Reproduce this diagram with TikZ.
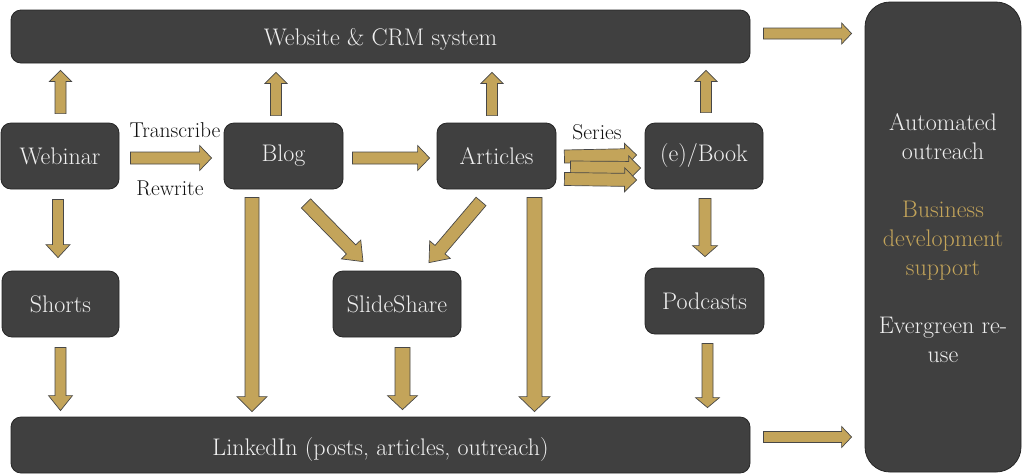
\documentclass[tikz,border=0pt]{standalone}
\usepackage{fontspec}
\usetikzlibrary{calc}
\definecolor{boxgray}{HTML}{404040}
\definecolor{boxline}{HTML}{262626}
\definecolor{gold}{HTML}{C3A45A}
\definecolor{txt}{HTML}{F0F0F0}
\definecolor{lbl}{HTML}{111111}
\tikzset{
  box/.style={draw=boxline, line width=0.8pt, fill=boxgray, rounded corners=10pt,
    text=txt, font=\fontsize{24}{28}\selectfont, inner sep=0pt},
  lbltext/.style={text=lbl, font=\fontsize{21.5}{24}\selectfont, inner sep=0pt},
  barrowstyle/.style={fill=gold, draw=boxline!85, line width=0.7pt, line join=miter},
}
\newcommand\blockarr[5]{%
  \coordinate (neck) at ($(#2)!#5pt!(#1)$);
  \filldraw[barrowstyle] ($(#1)!#3pt!90:(#2)$) -- ($(neck)!#3pt!90:(#2)$) -- ($(neck)!#4pt!90:(#2)$) -- (#2) -- ($(neck)!#4pt!-90:(#2)$) -- ($(neck)!#3pt!-90:(#2)$) -- ($(#1)!#3pt!-90:(#2)$) -- cycle;
}
\begin{document}
\begin{tikzpicture}[x=1pt,y=-1pt]
\useasboundingbox (0,0) rectangle (1024,475);
% boxes
\node[box, minimum width=739pt, minimum height=53pt] (web) at (380.5,36.5) {\raisebox{-3pt}[\height][\depth]{Website \& CRM system}};
\node[box, minimum width=739pt, minimum height=56pt] (linkedin) at (380.5,445) {\raisebox{-4pt}[\height][\depth]{LinkedIn (posts, articles, outreach)}};
\node[box, rounded corners=25pt, minimum width=156pt, minimum height=470pt] (right) at (943,237) {};
\node[box, minimum width=118pt, minimum height=66pt] (webinar) at (60,156) {Webinar};
\node[box, minimum width=119pt, minimum height=66pt] (blog) at (283.5,156) {Blog};
\node[box, minimum width=119pt, minimum height=66pt] (articles) at (496.5,156) {Articles};
\node[box, minimum width=118pt, minimum height=66pt] (book) at (704,156) {(e)/Book};
\node[box, minimum width=117pt, minimum height=66pt] (shorts) at (60.5,304) {Shorts};
\node[box, minimum width=128pt, minimum height=66pt] (slideshare) at (397,304) {SlideShare};
\node[box, minimum width=119pt, minimum height=66pt] (podcasts) at (704.5,301) {Podcasts};
% right text
\node[text=txt, font=\fontsize{24}{29}\selectfont, align=center, inner sep=0pt] (outcomes) at (943,238.5)
  {Automated\\outreach\\[29pt]\textcolor{gold}{Business}\\\textcolor{gold}{development}\\\textcolor{gold}{support}\\[29pt]Evergreen re-\\use};
% labels
\node[lbltext] (transcribe) at (175,130) {Transcribe};
\node[lbltext] (rewrite) at (170,188) {Rewrite};
\node[lbltext] (series) at (597,132) {Series};
% arrow end points
\coordinate (a1s) at ($(webinar.north)+(0.5,-9)$);
\coordinate (a1e) at ($(webinar.north |- web.south)+(0.5,7)$);
\coordinate (a2s) at ($(blog.north)+(-7.5,-7)$);
\coordinate (a2e) at ($(blog.north |- web.south)+(-7.5,9)$);
\coordinate (a3s) at ($(articles.north)+(-4.5,-7)$);
\coordinate (a3e) at ($(articles.north |- web.south)+(-4.5,9)$);
\coordinate (a4s) at ($(book.north)+(2,-10)$);
\coordinate (a4e) at ($(book.north |- web.south)+(2,7)$);
\coordinate (a5s) at ($(webinar.east)+(11,2)$);
\coordinate (a5e) at ($(blog.west)+(-12,2)$);
\coordinate (a6s) at ($(blog.east)+(9,2)$);
\coordinate (a6e) at ($(articles.west)+(-7,2)$);
\coordinate (s1s) at ($(articles.east)+(8,0.5)$);
\coordinate (s1e) at ($(book.west)+(-8,-1)$);
\coordinate (s2s) at ($(articles.east)+(14,11.5)$);
\coordinate (s2e) at ($(book.west)+(-4,12)$);
\coordinate (s3s) at ($(articles.east)+(8,23)$);
\coordinate (s3e) at ($(book.west)+(-8,24)$);
\coordinate (a8s) at ($(webinar.south)+(-2,10)$);
\coordinate (a8e) at ($(shorts.north)+(-2.5,-13)$);
\coordinate (a9s) at ($(shorts.south)+(0,10)$);
\coordinate (a9e) at ($(shorts.south |- linkedin.north)+(0,-6)$);
\coordinate (a10s) at ($(blog.south)+(-31.5,8)$);
\coordinate (a10e) at ($(blog.south |- linkedin.north)+(-31.5,-5)$);
\coordinate (a11s) at ($(articles.south)+(38,8)$);
\coordinate (a11e) at ($(articles.south |- linkedin.north)+(38,-5)$);
\coordinate (a12s) at ($(blog.south)+(22.5,14)$);
\coordinate (a12e) at ($(slideshare.north)+(-34,-9)$);
\coordinate (a13s) at ($(articles.south)+(-15.5,12)$);
\coordinate (a13e) at ($(slideshare.north)+(32,-8)$);
\coordinate (a14s) at ($(slideshare.south)+(5.5,10)$);
\coordinate (a14e) at ($(slideshare.south |- linkedin.north)+(5.5,-7)$);
\coordinate (a15s) at ($(book.south)+(1,9)$);
\coordinate (a15e) at ($(podcasts.north)+(0.5,-11)$);
\coordinate (a16s) at ($(podcasts.south)+(3,9)$);
\coordinate (a16e) at ($(podcasts.south |- linkedin.north)+(3,-9)$);
\coordinate (a17s) at ($(web.east)+(13,-3)$);
\coordinate (a17e) at ($(right.west |- web.east)+(-13,-3)$);
\coordinate (a18s) at ($(linkedin.east)+(13,-8)$);
\coordinate (a18e) at ($(right.west |- linkedin.east)+(-13,-8)$);
% arrows
\blockarr{a1s}{a1e}{5.5}{11}{11}
\blockarr{a2s}{a2e}{5.5}{11}{11}
\blockarr{a3s}{a3e}{5.5}{11}{11}
\blockarr{a4s}{a4e}{5.5}{11}{11}
\blockarr{a5s}{a5e}{6}{12.5}{12}
\blockarr{a6s}{a6e}{6}{12.5}{12}
\blockarr{s1s}{s1e}{6.5}{12}{12}
\blockarr{s2s}{s2e}{6.5}{12}{12}
\blockarr{s3s}{s3e}{6.5}{12}{12}
\blockarr{a8s}{a8e}{5.5}{12}{13}
\blockarr{a9s}{a9e}{5.5}{12}{15}
\blockarr{a10s}{a10e}{7}{15}{15}
\blockarr{a11s}{a11e}{7.5}{15.5}{15}
\blockarr{a12s}{a12e}{6.5}{13.5}{17}
\blockarr{a13s}{a13e}{6.5}{13.5}{17}
\blockarr{a14s}{a14e}{7.5}{15}{14}
\blockarr{a15s}{a15e}{6}{12.5}{11}
\blockarr{a16s}{a16e}{5.5}{12}{10}
\blockarr{a17s}{a17e}{5.5}{10.5}{10}
\blockarr{a18s}{a18e}{5.5}{10.5}{10}
\end{tikzpicture}
\end{document}
